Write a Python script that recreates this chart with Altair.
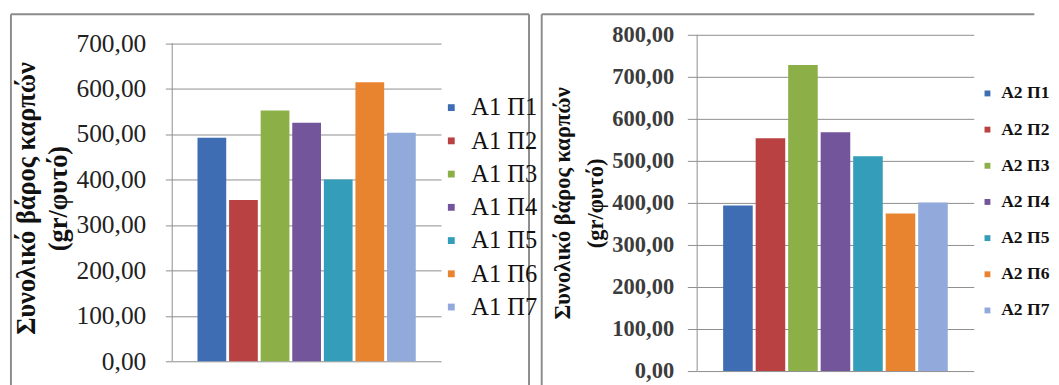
import altair as alt
import pandas as pd

series_a1 = ["A1 Π1", "A1 Π2", "A1 Π3", "A1 Π4", "A1 Π5", "A1 Π6", "A1 Π7"]
values_a1 = [492, 355, 552, 525, 400, 614, 503]
series_a2 = ["A2 Π1", "A2 Π2", "A2 Π3", "A2 Π4", "A2 Π5", "A2 Π6", "A2 Π7"]
values_a2 = [394, 554, 728, 568, 511, 375, 401]
colors = ["#3F6DB3", "#B94141", "#8CAF48", "#72559A", "#349DBA", "#E8832F", "#91AADB"]
ticks_a1 = [0, 100, 200, 300, 400, 500, 600, 700]
ticks_a2 = [0, 100, 200, 300, 400, 500, 600, 700, 800]
y_title = ["Συνολικό βάρος καρπών", "(gr/φυτό)"]

FONT = "Liberation Serif"
GRAY = "#8c8c8c"
LABEL_EXPR = "replace(format(datum.value, '.2f'), '.', ',')"
TOP = -21      # frame top, relative to plot origin
BOTTOM = 359   # frame bottom


def frame_rule(x, y, x2=None, y2=None):
    enc = {"x": alt.value(x), "y": alt.value(y)}
    if x2 is not None:
        enc["x2"] = alt.value(x2)
    if y2 is not None:
        enc["y2"] = alt.value(y2)
    return alt.Chart(pd.DataFrame({"k": [0]})).mark_rule(
        color=GRAY, strokeWidth=2
    ).encode(**enc)


def panel(series, values, ticks, ymax, axis_cfg, legend_cfg):
    df = pd.DataFrame({"series": series, "value": values})
    bars = alt.Chart(df).mark_bar().encode(
        x=alt.X("series:N", sort=series, axis=None,
                scale=alt.Scale(paddingInner=0.09, paddingOuter=0.8)),
        y=alt.Y("value:Q",
                scale=alt.Scale(domain=[0, ymax], nice=False),
                axis=alt.Axis(values=ticks, labelExpr=LABEL_EXPR, title=y_title,
                              labelFont=FONT, titleFont=FONT, titleFontWeight="bold",
                              titleColor="#111111", tickColor=GRAY, domain=False,
                              gridColor=GRAY, grid=True, **axis_cfg)),
        color=alt.Color("series:N", sort=series,
                        scale=alt.Scale(domain=series, range=colors),
                        legend=alt.Legend(title=None, orient="none", symbolType="square",
                                          labelFont=FONT, padding=0, symbolStrokeWidth=0,
                                          labelColor="#111111", **legend_cfg)),
    )
    axis_line = alt.Chart(pd.DataFrame({"lo": [ticks[0]], "hi": [ticks[-1]]})).mark_rule(
        color=GRAY, strokeWidth=1
    ).encode(x=alt.value(0), y="lo:Q", y2="hi:Q")
    return bars, axis_line


# Left panel
left_bars, left_axis = panel(
    series_a1, values_a1, ticks_a1, 718.5,
    dict(labelFontSize=26, labelColor="#222222", labelPadding=20, tickSize=7,
         titleFontSize=27, titleLineHeight=32, titlePadding=4),
    dict(legendX=273, legendY=62, labelFontSize=25, symbolSize=49, rowPadding=8,
         labelOffset=8),
)
left = alt.layer(
    frame_rule(-165, TOP, y2=BOTTOM),
    frame_rule(-165, TOP, x2=365),
    frame_rule(365, TOP, y2=BOTTOM),
    left_bars,
    left_axis,
).properties(width=275, height=334)

# Right panel
right_bars, right_axis = panel(
    series_a2, values_a2, ticks_a2, 800,
    dict(labelFontSize=23, labelFontWeight="bold", labelColor="#3c3c3c", labelPadding=14,
         tickSize=10, titleFontSize=23, titleLineHeight=33, titlePadding=5),
    dict(legendX=288, legendY=51, labelFontSize=18, labelFontWeight="bold",
         symbolSize=36, rowPadding=19, labelOffset=5),
)
right = alt.layer(
    frame_rule(-159, TOP, y2=BOTTOM),
    frame_rule(-159, TOP, x2=345),
    right_bars,
    right_axis,
).properties(width=283, height=344)

chart = alt.hconcat(left, right, spacing=1).resolve_scale(
    color="independent", y="independent", x="independent"
).resolve_legend(color="independent").properties(
    padding={"left": 1, "top": 0, "right": 0, "bottom": 0}
).configure(font=FONT).configure_view(stroke="transparent")

chart.save("out.html", embed_options={"renderer": "svg", "actions": False})
